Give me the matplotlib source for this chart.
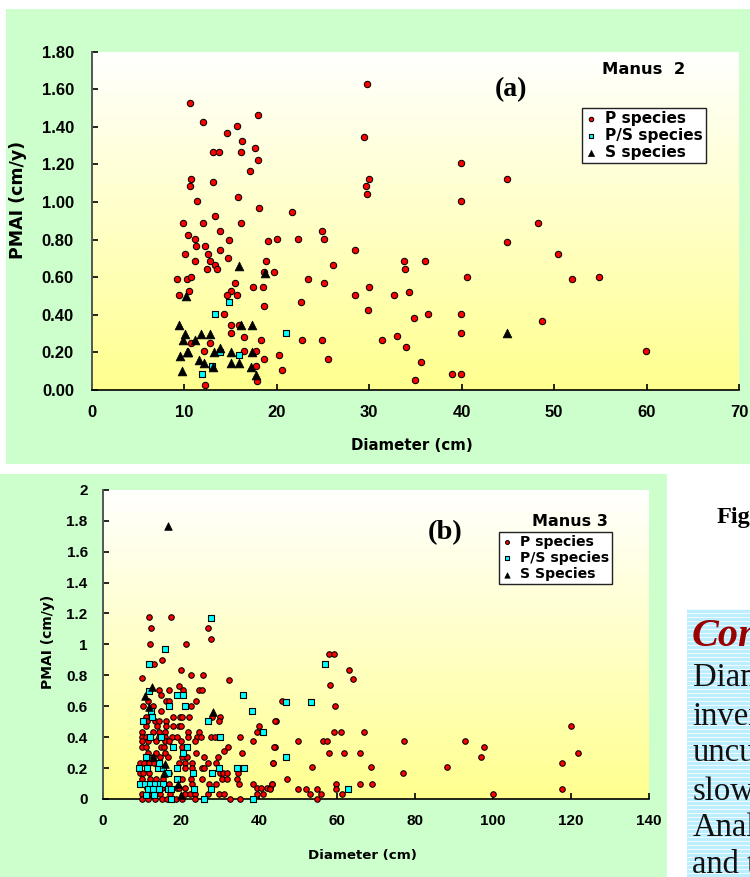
import matplotlib
matplotlib.use('Agg')
import matplotlib.pyplot as plt
import numpy as np
from matplotlib.patches import Rectangle

W,H=750,877
SANS='Liberation Sans'
WIDE='DejaVu Sans'
SERIF='Liberation Serif'
GREEN='#ccffcc'

# panel (a) Manus 2
a_p_x=[10.6,12.0,18.0,15.7,14.6,16.2,17.6,13.1,13.7,16.1,18.0,17.1,10.7,10.6,13.1,11.4,15.8,18.1,21.6,9.85,12.0,16.1,13.3,10.35,11.1,13.8,24.9,20.05,22.3,25.1,29.4,29.8,30.0,29.6,29.8,14.8,19.0,
       39.9,44.9,39.9,48.2,44.9,50.4,33.8,36.0,33.9,40.6,51.9,54.8,
       11.3,12.27,13.8,10.1,12.6,14.7,28.5,11.1,12.8,18.8,13.3,26.05,12.4,13.5,18.65,19.65,9.2,10.25,10.7,23.4,15.45,25.05,17.4,18.5,30.0,10.5,15.0,9.45,14.6,15.7,28.5,18.65,22.6,29.85,14.3,15.0,15.95,15.0,16.45,18.25,22.7,24.9,10.7,12.8,12.15,16.45,17.75,20.2,18.65,25.5,17.75,20.6,17.9,12.27,
       31.4,33.0,34.0,34.3,32.7,34.8,36.4,35.6,35.0,38.9,39.9,39.9,39.9,48.7,59.9]
a_p_y=[1.527,1.427,1.463,1.404,1.365,1.326,1.285,1.264,1.264,1.264,1.223,1.165,1.122,1.087,1.108,1.007,1.025,0.966,0.945,0.888,0.888,0.888,0.924,0.824,0.803,0.846,0.846,0.803,0.803,0.803,1.344,1.628,1.122,1.087,1.044,0.80,0.79,
       1.206,1.122,1.007,0.888,0.787,0.725,0.688,0.688,0.645,0.603,0.59,0.603,
       0.766,0.766,0.746,0.725,0.725,0.704,0.746,0.688,0.688,0.688,0.666,0.666,0.645,0.645,0.626,0.626,0.589,0.589,0.603,0.589,0.567,0.567,0.546,0.546,0.546,0.527,0.527,0.505,0.505,0.505,0.505,0.447,0.468,0.427,0.404,0.347,0.347,0.305,0.284,0.268,0.268,0.268,0.248,0.248,0.206,0.206,0.206,0.185,0.163,0.163,0.126,0.106,0.05,0.028,
       0.266,0.287,0.229,0.52,0.505,0.383,0.404,0.149,0.053,0.085,0.085,0.303,0.404,0.367,0.207]
a_ps_x=[14.85,13.3,21.0,13.85,15.9,12.95,11.95]
a_ps_y=[0.468,0.404,0.305,0.204,0.184,0.126,0.085]
a_s_x=[15.95,18.7,10.2,9.4,16.1,17.35,10.05,11.8,12.75,9.8,11.1,13.9,10.4,10.3,13.25,15.05,17.35,9.55,11.6,12.15,15.05,15.95,13.1,17.2,9.7,17.7,44.9]
a_s_y=[0.661,0.62,0.5,0.344,0.344,0.344,0.30,0.30,0.30,0.264,0.264,0.222,0.20,0.20,0.20,0.20,0.20,0.18,0.16,0.143,0.143,0.143,0.124,0.124,0.10,0.08,0.303]

# panel (b) Manus 3
b_p=[(11.7,1.174),(17.35,1.174),(12.2,1.105),(11.96,1.003),(21.4,1.003),(26.9,1.105),(27.8,1.033),(15.1,0.902),(13,0.875),(20,0.832),(22.5,0.80),(25.6,0.80),(10,0.783),(32.4,0.772),
(14.4,.703),(17,.703),(20.6,.703),(24.5,.703),(25.4,.703),(14.9,.671),(19.5,.733),(11.5,.632),(16.2,.632),(17,.632),(23.8,.632),
(10.3,.602),(12.7,.602),(22.5,.602),(14.9,.57),
(10.9,.531),(17.9,.531),(19.7,.531),(20.3,.531),(22.1,.531),(27.9,.531),(29.9,.531),
(11.3,.503),(13.4,.503),(14.4,.503),(16.2,.503),(29.7,.503),(44.3,.503),
(10.9,.475),(13.8,.475),(16.2,.475),(17.9,.475),(19.4,.475),(20.1,.475),(39.9,.475),
(9.9,.436),(12.7,.436),(14.4,.436),(16,.436),(21.9,.436),(24.7,.436),(39.4,.436),
(10,.40),(10.9,.40),(14.3,.40),(15.8,.40),(17.6,.40),(19.1,.40),(21.9,.40),(24,.40),(25.2,.40),(27.7,.40),(28.6,.40),(35.1,.40),
(10,.373),(11.5,.373),(13.6,.373),(15.8,.373),(17,.373),(20,.373),(23.5,.373),(38.5,.373),
(9.9,.334),(11,.334),(14.9,.334),(15.6,.334),(20.2,.334),(32.05,.334),(44,.334),
(31,.311),(11.5,.30),(13.6,.30),(15.9,.30),(23.8,.30),(35.6,.30),
(12.7,.274),(14.6,.274),(16.6,.274),(20.2,.274),(21.6,.274),(25.9,.274),(29.4,.274),
(9.5,.231),(10.6,.231),(11.8,.231),(13.1,.231),(19.5,.231),(21,.231),(22.9,.231),(26.8,.231),(29.1,.231),(43.5,.231),
(21,.203),(22.9,.203),(25.3,.203),(26,.203),
(9.6,.17),(10.3,.17),(11.9,.17),(17,.17),(30,.17),(30.7,.17),(31.7,.17),(34.7,.17),
(9.9,.132),(12,.132),(13.6,.132),(15.5,.132),(20.3,.132),(22.6,.132),(25.4,.132),(30.6,.132),(31.8,.132),(34.3,.132),
(10,.10),(11.2,.10),(12.5,.10),(15.5,.10),(17,.10),(22.9,.10),(27.3,.10),(29.1,.10),(34.8,.10),(38.5,.10),(43.3,.10),
(11.2,.07),(15,.07),(18.9,.07),(19.5,.07),(21.1,.07),(39.4,.07),(40.4,.07),(42,.07),(42.8,.07),
(9.9,.03),(12.5,.03),(14.6,.03),(17.2,.03),(21,.03),(22.3,.03),(23.6,.03),(26.8,.03),(29.8,.03),(31,.03),(39.4,.03),(41.1,.03),
(9.9,0),(11.6,0),(13.3,0),(15,0),(16.5,0),(18.6,0),(20.3,0),(23.6,0),(32.6,0),(35,0),
(57.9,.936),(59.2,.936),(63.2,.833),(64.1,.775),(58.1,.736),(59.6,.602),(45.9,.632),(44.2,.503),(59.2,.435),(60.9,.435),(67,.435),
(50.1,.373),(56.3,.373),(57.4,.373),(77.2,.373),(92.8,.373),(97.6,.335),(43.9,.335),(120.1,.474),(121.8,.30),(57.9,.30),(61.7,.30),(65.9,.30),
(96.9,.272),(117.8,.233),(43.6,.233),(68.6,.205),(53.6,.205),(88.2,.205),(76.9,.17),(47.2,.132),(43.4,.10),(59.8,.10),(65.9,.10),(68.9,.10),
(50.1,.067),(52.1,.067),(54.9,.067),(59.7,.067),(117.6,.067),(42.8,.067),(53,.03),(55.9,.03),(61.4,.03),(100,.03),(54.9,0)]
b_ps=[(27.6,1.17),(15.8,.973),(11.8,.874),(11.7,.70),(19.1,.67),(20.6,.67),(35.8,.67),(16.8,.60),(21.1,.60),(12.3,.57),(38.3,.57),(12.6,.531),(10.2,.503),(26.8,.503),(41,.436),(12,.40),(14.9,.40),(30,.40),(17.9,.334),(21.5,.334),(20.6,.296),(10.9,.27),
(9.3,.203),(11.2,.203),(14,.203),(15.5,.203),(19.1,.203),(29.7,.203),(34.4,.203),(36.2,.203),(14.4,.231),(16.6,.17),(23,.17),(27.9,.17),(18.9,.132),
(9.5,.10),(10.8,.10),(12,.10),(13.3,.10),(14.6,.10),(15.5,.10),(11.5,.065),(12.9,.065),(14.4,.065),(16.6,.065),(17.4,.065),(23.3,.065),(27.6,.065),(10.9,.026),(13.1,.026),(17.4,0),(26,0),(38.4,0),
(56.9,.874),(46.9,.63),(53.3,.63),(46.8,.272),(62.7,.067)]
b_s=[(16.7,1.767),(12.65,.727),(10.85,.667),(11.9,.598),(28.3,.563),(15.9,.224),(15.6,.166),(19.3,.10),(20,.026),(12.7,.274)]

a_xticks=[0,10,20,30,40,50,60,70]
a_yticks=[0,.2,.4,.6,.8,1,1.2,1.4,1.6,1.8]
b_xticks=[0,20,40,60,80,100,120,140]
b_yticks=[0,.2,.4,.6,.8,1,1.2,1.4,1.6,1.8,2]
b_ylabels=['0','0.2','0.4','0.6','0.8','1','1.2','1.4','1.6','1.8','2']
side_lines=['Diameter','inverse','uncut','slow','Analysis','and the']
side_y=[678,717,753,792,828,865]

def fx(x): return x/W
def fy(y): return 1-y/H

def axes_px(x0,y0,x1,y1):
    return fig.add_axes([fx(x0),fy(y1),(x1-x0)/W,(y1-y0)/H])

def put(x,y,s,**kw):
    kw.setdefault('ha','center')
    kw.setdefault('va','center')
    kw.setdefault('family',WIDE)
    kw.setdefault('fontweight','bold')
    fig.text(fx(x),fy(y),s,**kw)

def block(x0,y0,x1,y1,color):
    fig.add_artist(Rectangle((fx(x0),fy(y1)),(x1-x0)/W,(y1-y0)/H,transform=fig.transFigure,fc=color,ec='none',zorder=-5))

def panel(ax,px,py,psx,psy,sx,sy,xt,yt,ylab,xlim,ylim,tsize,msize):
    grad=np.linspace(0,1,256).reshape(-1,1,1)
    top=np.array([1,1,1]).reshape(1,1,3)
    bot=np.array([1,1,0.56]).reshape(1,1,3)
    ax.imshow(top+(bot-top)*grad,extent=[0,1,0,1],transform=ax.transAxes,aspect='auto',zorder=0)
    ax.scatter(px,py,s=msize,c='#ff0000',edgecolors='black',linewidths=0.75,marker='o',label='P species',clip_on=False,zorder=3)
    ax.scatter(psx,psy,s=msize*1.2,c='#00ffff',edgecolors='black',linewidths=0.8,marker='s',label='P/S species',clip_on=False,zorder=4)
    ax.scatter(sx,sy,s=msize*1.9,c='black',edgecolors='black',linewidths=0.5,marker='^',label='S species',clip_on=False,zorder=5)
    ax.set_xlim(xlim)
    ax.set_ylim(ylim)
    ax.set_xticks(xt)
    ax.set_yticks(yt)
    ax.set_yticklabels(ylab)
    ax.tick_params(direction='in',length=4.5,width=1.2,labelsize=tsize)
    ax.tick_params(axis='x',pad=10.5)
    for t in ax.get_xticklabels()+ax.get_yticklabels():
        t.set_family(SANS)
        t.set_fontweight('bold')
    ax.spines['top'].set_visible(False)
    ax.spines['right'].set_visible(False)
    ax.spines['left'].set_color('#555555')
    ax.spines['left'].set_linewidth(1.4)
    ax.spines['bottom'].set_linewidth(1.2)

def legend(ax,x,y,size,spacing,labels):
    h,l=ax.get_legend_handles_labels()
    leg=ax.legend(h,labels,loc='upper left',bbox_to_anchor=(fx(x),fy(y)),bbox_transform=fig.transFigure,
                  frameon=True,fancybox=False,framealpha=1,edgecolor='#222222',
                  borderaxespad=0,borderpad=0.2,handlelength=0.8,handletextpad=0.5,labelspacing=spacing,
                  prop={'family':WIDE,'weight':'bold','size':size},markerscale=0.7)
    leg.get_frame().set_linewidth(1.0)
    leg.set_zorder(6)
    return leg

fig=plt.figure(figsize=(W/100,H/100),dpi=100,facecolor='white')

# page background
block(6,9,750,464,GREEN)
block(0,474,667,877,GREEN)
block(687,609,750,877,'#bdeeff')
for y in np.arange(609,877,4):
    block(687,y,750,y+1.2,'#f0fbff')

ax1=axes_px(92,51.6,739,390)
panel(ax1,a_p_x,a_p_y,a_ps_x,a_ps_y,a_s_x,a_s_y,a_xticks,a_yticks,['%.2f'%v for v in a_yticks],(0,70),(0,1.8),12,21)
ax1.tick_params(axis='y',pad=13)
legend(ax1,582,108,11.1,0.12,['P species','P/S species','S species'])

b_p_x=[p[0] for p in b_p]; b_p_y=[p[1] for p in b_p]
b_ps_x=[p[0] for p in b_ps]; b_ps_y=[p[1] for p in b_ps]
b_s_x=[p[0] for p in b_s]; b_s_y=[p[1] for p in b_s]
ax2=axes_px(103,489.8,649,799)
panel(ax2,b_p_x,b_p_y,b_ps_x,b_ps_y,b_s_x,b_s_y,b_xticks,b_yticks,b_ylabels,(0,140),(0,2),11,16)
ax2.tick_params(axis='y',pad=11)
legend(ax2,499,532,10.1,0.16,['P species','P/S species','S Species'])

put(412,446,'Diameter (cm)',fontsize=10.8)
put(18,200,'PMAI (cm/y)',fontsize=12.5,rotation=90)
put(644,70,'Manus  2',fontsize=11.8)
put(511,90,'(a)',fontsize=20,family=SERIF)
put(362,856,'Diameter (cm)',fontsize=9.6)
put(48,642,'PMAI (cm/y)',fontsize=10,rotation=90)
put(570,522,'Manus 3',fontsize=11.5)
put(445,533,'(b)',fontsize=20.5,family=SERIF)

put(717,518,'Figure',fontsize=17.5,family=SERIF,ha='left')
put(692,637,'Conclusions',fontsize=29,family=SERIF,ha='left',style='italic',color='#990000')
for s,y in zip(side_lines,side_y):
    put(692.5,y,s,fontsize=23.5,family=SERIF,fontweight='normal',ha='left',color='#111111')

fig.savefig('out.png',dpi=100,facecolor='white')
